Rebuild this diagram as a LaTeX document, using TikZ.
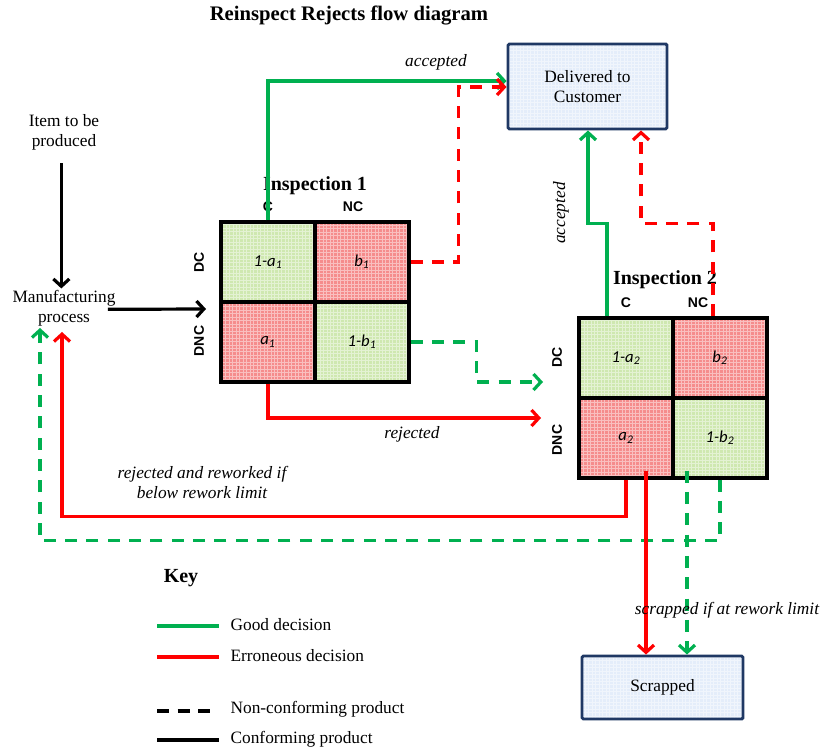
\documentclass[tikz,border=0pt]{standalone}
\usepackage{fontspec}
\setmainfont{Liberation Serif}
\newfontfamily\lblsans{Liberation Sans}
\newfontfamily\cellfont{Carlito}
\usetikzlibrary{arrows.meta,calc}

\definecolor{okgreen}{RGB}{0,176,80}
\definecolor{errred}{RGB}{255,0,0}
\definecolor{cellgreen}{RGB}{207,232,176}
\definecolor{cellred}{RGB}{245,140,140}
\definecolor{boxnavy}{RGB}{31,56,100}
\definecolor{boxfill}{RGB}{228,237,250}

\tikzset{
  txt/.style={font=\fontsize{13}{15}\selectfont, align=center, inner sep=1pt},
  itxt/.style={font=\itshape\fontsize{13}{15}\selectfont, align=center, inner sep=1pt},
  hdr/.style={font=\bfseries\fontsize{15}{17}\selectfont, inner sep=1pt},
  axis/.style={font=\lblsans\bfseries\fontsize{10.5}{12}\selectfont, inner sep=1pt},
  texture/.style={path picture={
      \draw[white, opacity=.45, line width=.45pt]
        (path picture bounding box.south west) grid[step=2.6pt]
        (path picture bounding box.north east);}},
  cell/.style={draw=black, line width=2.4pt, inner sep=0pt,
    minimum width=70.5pt, minimum height=60pt, texture,
    font=\cellfont\itshape\fontsize{12.5}{14}\selectfont},
  goodcell/.style={cell, fill=cellgreen},
  badcell/.style={cell, fill=cellred},
  endbox/.style={draw=boxnavy, line width=2.2pt, fill=boxfill, texture,
    rounded corners=1pt, font=\fontsize{13}{15}\selectfont, align=center},
  flow/.style={-{Straight Barb[length=5.5pt,width=12pt]}},
  good/.style={flow, draw=okgreen, line width=2.4pt},
  bad/.style={flow, draw=errred, line width=2.4pt},
  noncon/.style={dash pattern=on 9pt off 7pt},
  conform/.style={flow, draw=black, line width=2.4pt},
  keyline/.style={line width=3pt}
}

\begin{document}
\begin{tikzpicture}[x=0.75pt,y=-0.75pt]
\useasboundingbox (0,0) rectangle (821,748);

% title
\node[font=\bfseries\fontsize{15.5}{18}\selectfont] (title) at (349,16)
  {Reinspect Rejects flow diagram};

% start of the process
\node[txt] (item) at (64,132) {Item to be\\produced};
\node[txt] (mfg) at (64,308) {Manufacturing\\process};

% inspection 1
\node[goodcell] (i1ca) at (268,262) {1-a\textsubscript{1}};
\node[badcell]  (i1nb) at (362,262) {b\textsubscript{1}};
\node[badcell]  (i1cb) at (268,342) {a\textsubscript{1}};
\node[goodcell] (i1na) at (362,342) {1-b\textsubscript{1}};
\node[hdr] (i1title) at (315,186) {Inspection 1};
\node[axis] (i1c)  at (268,207) {C};
\node[axis] (i1nc) at (353,207) {NC};
\node[axis, rotate=90] (i1dc)  at (199,262) {DC};
\node[axis, rotate=90] (i1dnc) at (199,341) {DNC};

% inspection 2
\node[goodcell] (i2ca) at (626,358) {1-a\textsubscript{2}};
\node[badcell]  (i2nb) at (720,358) {b\textsubscript{2}};
\node[badcell]  (i2cb) at (626,438) {a\textsubscript{2}};
\node[goodcell] (i2na) at (720,438) {1-b\textsubscript{2}};
\node[hdr] (i2title) at (665,280) {Inspection 2};
\node[axis] (i2c)  at (626,303) {C};
\node[axis] (i2nc) at (698,303) {NC};
\node[axis, rotate=90] (i2dc)  at (557,357) {DC};
\node[axis, rotate=90] (i2dnc) at (557,440) {DNC};

% end states
\node[endbox, minimum width=119.25pt, minimum height=63.75pt] (deliver)
  at (587.5,86.5) {Delivered to\\Customer};
\node[endbox, minimum width=120.75pt, minimum height=47.25pt] (scrap)
  at (662.5,687.5) {Scrapped};

% free ends of connectors
\coordinate (i1in)   at (206,309);
\coordinate (i2in1)  at (543,382);
\coordinate (i2in2)  at (541,418);
\coordinate (mfgret1) at (62,332);
\coordinate (mfgret2) at (40,328);

% conforming material into the process
\draw[conform] ([xshift=-2pt,yshift=-9pt]item.south) -- ([xshift=-2pt]mfg.north);
\draw[conform] ([xshift=-7pt,yshift=-1pt]mfg.east) -- (i1in);

% decisions at inspection 1
\draw[good] (i1ca.north) |- ($(deliver.west)+(0,-5.5)$);
\draw[bad, noncon] (i1nb.east) -- ++(48,0) |- ($(deliver.west)+(0,0.5)$);
\draw[good, noncon] (i1na.east) -- ++(66,0) |- (i2in1);
\draw[bad] (i1cb.south) |- (i2in2);

% decisions at inspection 2
\draw[good] ($(i2ca.north)+(-19,0)$) -- ++(0,-93) -| ($(deliver.south)+(0.5,0)$);
\draw[bad, noncon] ($(i2nb.north)+(-7,0)$) -- ++(0,-93) -| ($(deliver.south)+(53.5,0)$);
\draw[bad] (i2cb.south) -- ++(0,37) -| (mfgret1);
\draw[good, noncon] (i2na.south) -- ++(0,61) -| (mfgret2);
\draw[bad] ($(i2cb.south)+(20,-9)$) -- ($(scrap.north)+(-16.5,0)$);
\draw[good, noncon] ($(i2na.south)+(-33,-9)$) -- ($(scrap.north)+(24.5,0)$);

% connector labels
\node[itxt] (lacc1) at (436,62) {accepted};
\node[itxt, rotate=90] (lacc2) at (561,213) {accepted};
\node[itxt] (lrej) at (412,434) {rejected};
\node[itxt] (lrew) at (202,482) {rejected and reworked if\\below rework limit};
\node[itxt] (lscr) at (727,610) {scrapped if at rework limit};

% key
\node[font=\bfseries\fontsize{15}{17}\selectfont] (key) at (181,578) {Key};
\draw[keyline, okgreen] (157,626) -- (219,626);
\draw[keyline, errred] (157,657) -- (219,657);
\draw[keyline, black, dash pattern=on 9pt off 6.5pt] (157,711) -- (219,711);
\draw[keyline, black] (157,740) -- (219,740);
\node[txt, anchor=west] (kgood) at (229,625) {Good decision};
\node[txt, anchor=west] (kbad)  at (229,656) {Erroneous decision};
\node[txt, anchor=west] (knc)   at (229,709) {Non-conforming product};
\node[txt, anchor=west] (kc)    at (229,739) {Conforming product};
\end{tikzpicture}
\end{document}
